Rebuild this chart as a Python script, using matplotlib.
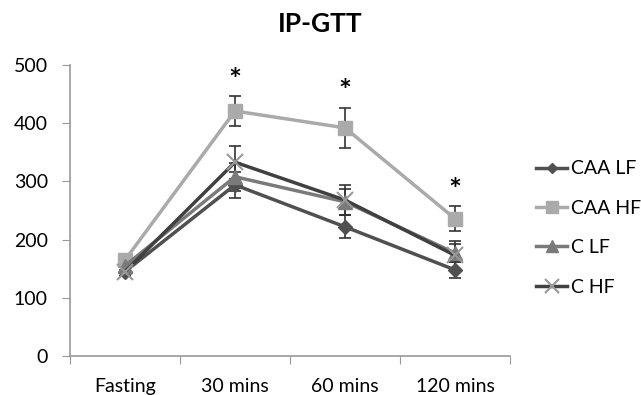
import matplotlib
matplotlib.use("Agg")
import matplotlib.pyplot as plt

categories = ["Fasting", "30 mins", "60 mins", "120 mins"]
series_names = ["CAA LF", "CAA HF", "C LF", "C HF"]
caa_lf = [145, 294, 222, 148]
caa_hf = [165, 421, 392, 236]
c_lf = [155, 308, 265, 177]
c_hf = [145, 333, 268, 173]
caa_lf_err = [8, 22, 20, 14]
caa_hf_err = [10, 26, 35, 22]
c_lf_err = [8, 24, 22, 16]
c_hf_err = [8, 28, 26, 25]
star_idx = [1, 2, 3]
y_ticks = [0, 100, 200, 300, 400, 500]

plt.rcParams['font.family'] = ['Lato', 'DejaVu Sans']

fig = plt.figure(figsize=(6.41, 3.95), dpi=100)
ax = fig.add_axes([0.1092, 0.0987, 0.6864, 0.7367])

x = list(range(len(categories)))
styles = [
    dict(color="#505050", marker="D", ms=7, mfc="#505050", mec="#505050"),
    dict(color="#aaaaaa", marker="s", ms=10, mfc="#aaaaaa", mec="#aaaaaa"),
    dict(color="#7a7a7a", marker="^", ms=10, mfc="#7a7a7a", mec="#7a7a7a"),
    dict(color="#404040", marker="x", ms=12, mfc="#999999", mec="#999999", mew=1.5),
]
datas = [caa_lf, caa_hf, c_lf, c_hf]
errs = [caa_lf_err, caa_hf_err, c_lf_err, c_hf_err]

for name, d, e, st in zip(series_names, datas, errs, styles):
    ax.errorbar(x, d, yerr=e, fmt="none", ecolor="#333333", elinewidth=1.2, capsize=4, capthick=1.2, zorder=2)
    ax.plot(x, d, lw=2.5, label=name, zorder=3, **st)

for i in star_idx:
    ax.text(x[i], caa_hf[i] + caa_hf_err[i] + 2, "*", ha="center", va="bottom", fontsize=22, color="black", fontweight="bold")

ax.set_xlim(-0.5, len(categories) - 0.5)
ax.set_ylim(0, 500)
ax.set_yticks(y_ticks)
ax.set_yticklabels([str(v) for v in y_ticks], fontsize=14)
ax.set_xticks([i + 0.5 for i in range(-1, len(categories))])
ax.set_xticklabels([])
ax.set_xticks(x, minor=True)
ax.set_xticklabels(categories, minor=True, fontsize=14)
ax.tick_params(axis="x", which="minor", length=0, pad=16)
ax.tick_params(axis="x", which="major", length=6, color="#999999", direction="out")
ax.tick_params(axis="y", length=6, color="#999999", direction="out", pad=10)
for s in ["top", "right"]:
    ax.spines[s].set_visible(False)
for s in ["left", "bottom"]:
    ax.spines[s].set_color("#999999")
    ax.spines[s].set_linewidth(1.2)

fig.text(0.5, 0.94, "IP-GTT", ha="center", va="center", fontsize=19, fontweight="bold")

leg = ax.legend(loc="center left", bbox_to_anchor=(1.02, 0.44), frameon=False, fontsize=14,
                handlelength=1.6, labelspacing=1.15, handletextpad=0.2, markerscale=0.8)

fig.savefig("out.png", dpi=100)
